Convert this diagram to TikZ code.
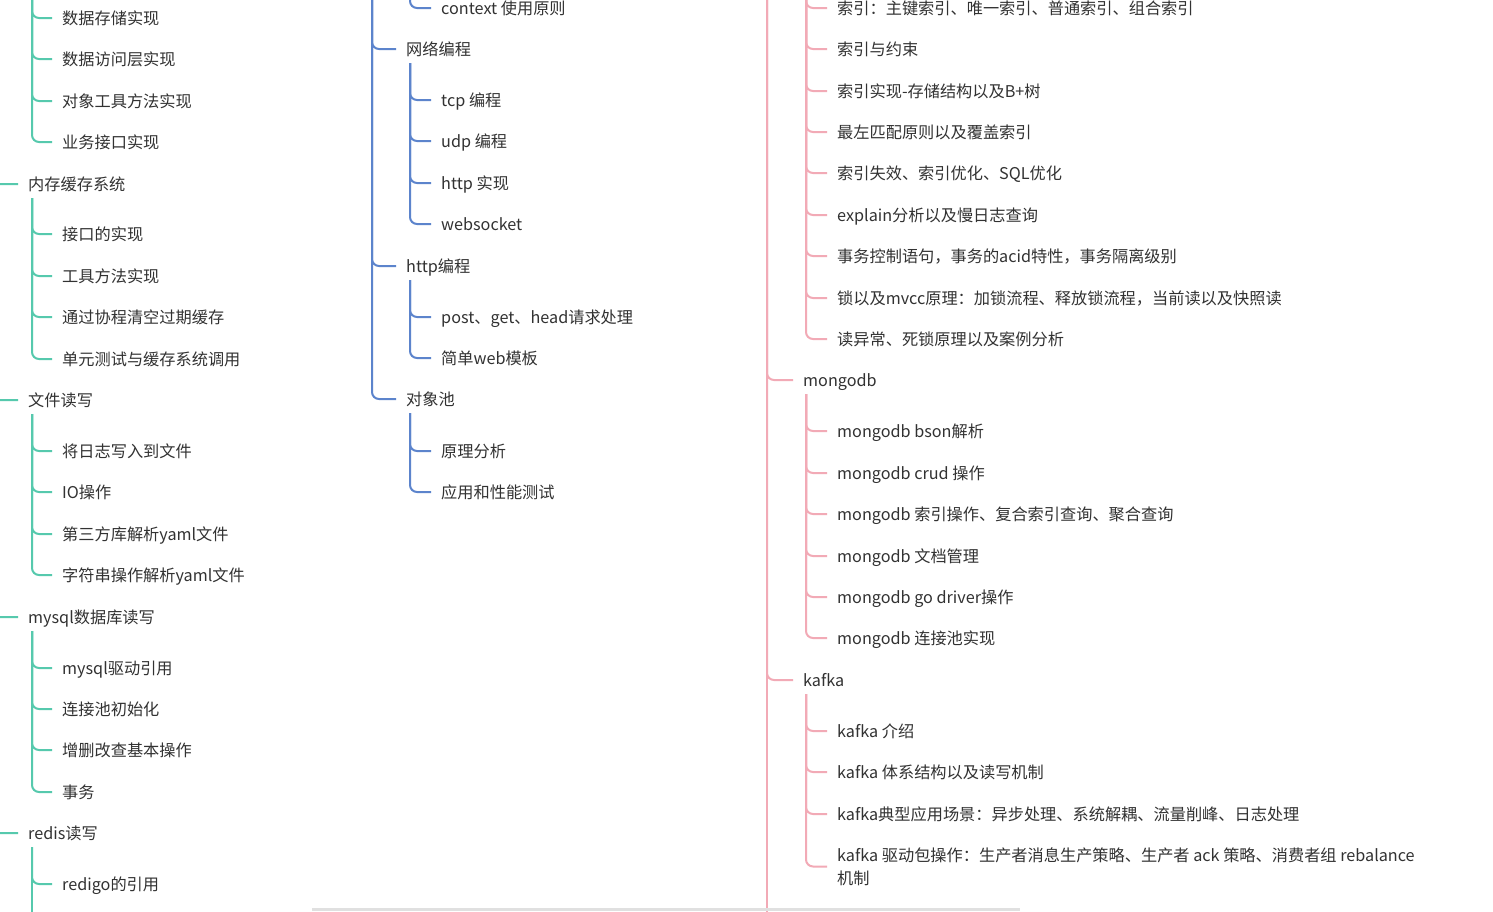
\documentclass[tikz,border=0pt]{standalone}
\usepackage{fontspec}
\setmainfont{Noto Sans CJK SC}
\definecolor{cteal}{RGB}{86,201,173}
\definecolor{cblue}{RGB}{92,132,204}
\definecolor{cpink}{RGB}{242,170,182}
\definecolor{ctext}{RGB}{50,50,50}
\begin{document}
\begin{tikzpicture}[x=1pt,y=-1pt,
  item/.style={anchor=west,inner xsep=10pt,inner ysep=6pt,text height=14pt,text depth=2pt,text=ctext,font=\fontsize{16.2}{20}\selectfont},
  itemml/.style={anchor=west,inner xsep=10pt,inner ysep=0pt,align=left,text=ctext,font=\fontsize{16.2}{23}\selectfont},
  tl/.style={draw=cteal,line width=2pt,rounded corners=7pt},
  bl/.style={draw=cblue,line width=2pt,rounded corners=7pt},
  pl/.style={draw=cpink,line width=2pt,rounded corners=7pt}]
\useasboundingbox (0,0) rectangle (1493,911);
\clip (0,0) rectangle (1493,911);
\fill[white] (0,0) rectangle (1493,911);

% ---------------- left column ----------------
\coordinate (Lroot) at (-12,-50);
\coordinate (Ltop) at (32,-40);
\node[item] (l1) at (52,18) {数据存储实现};
\node[item] (l2) at (52,59) {数据访问层实现};
\node[item] (l3) at (52,101) {对象工具方法实现};
\node[item] (l4) at (52,142) {业务接口实现};
\foreach \n in {l1,l2,l3,l4} \draw[tl] (Ltop) |- (\n.west);

\node[item] (mem) at (18,184) {内存缓存系统};
\node[item] (m1) at (52,234) {接口的实现};
\node[item] (m2) at (52,276) {工具方法实现};
\node[item] (m3) at (52,317) {通过协程清空过期缓存};
\node[item] (m4) at (52,359) {单元测试与缓存系统调用};
\foreach \n in {m1,m2,m3,m4} \draw[tl] ([xshift=14pt]mem.south west) |- (\n.west);

\node[item] (file) at (18,400) {文件读写};
\node[item] (f1) at (52,451) {将日志写入到文件};
\node[item] (f2) at (52,492) {IO操作};
\node[item] (f3) at (52,534) {第三方库解析yaml文件};
\node[item] (f4) at (52,575) {字符串操作解析yaml文件};
\foreach \n in {f1,f2,f3,f4} \draw[tl] ([xshift=14pt]file.south west) |- (\n.west);

\node[item] (mysql) at (18,617) {mysql数据库读写};
\node[item] (s1) at (52,668) {mysql驱动引用};
\node[item] (s2) at (52,709) {连接池初始化};
\node[item] (s3) at (52,750) {增删改查基本操作};
\node[item] (s4) at (52,792) {事务};
\foreach \n in {s1,s2,s3,s4} \draw[tl] ([xshift=14pt]mysql.south west) |- (\n.west);

\node[item] (redis) at (18,833) {redis读写};
\node[item] (r1) at (52,884) {redigo的引用};
\coordinate (Rdbot) at (32,960);
\draw[tl] ([xshift=14pt]redis.south west) |- (r1.west);
\draw[tl] ([xshift=14pt]redis.south west) -- (Rdbot);

\foreach \n in {mem,file,mysql,redis} \draw[tl] (Lroot) |- (\n.west);
\coordinate (Lbot) at (-12,960);
\draw[tl] (Lroot) -- (Lbot);

% ---------------- middle column ----------------
\coordinate (Mroot) at (372,-40);
\coordinate (Mtop) at (410,-40);
\node[item] (ctx) at (431,8) {context 使用原则};
\draw[bl] (Mtop) |- (ctx.west);

\node[item] (net) at (396,49) {网络编程};
\node[item] (n1) at (431,100) {tcp 编程};
\node[item] (n2) at (431,141) {udp 编程};
\node[item] (n3) at (431,183) {http 实现};
\node[item] (n4) at (431,224) {websocket};
\foreach \n in {n1,n2,n3,n4} \draw[bl] ([xshift=14pt]net.south west) |- (\n.west);

\node[item] (http) at (396,266) {http编程};
\node[item] (h1) at (431,317) {post、get、head请求处理};
\node[item] (h2) at (431,358) {简单web模板};
\foreach \n in {h1,h2} \draw[bl] ([xshift=14pt]http.south west) |- (\n.west);

\node[item] (pool) at (396,399) {对象池};
\node[item] (p1) at (431,451) {原理分析};
\node[item] (p2) at (431,492) {应用和性能测试};
\foreach \n in {p1,p2} \draw[bl] ([xshift=14pt]pool.south west) |- (\n.west);

\foreach \n in {net,http,pool} \draw[bl] (Mroot) |- (\n.west);

% ---------------- right column ----------------
\coordinate (Rroot) at (767,-40);
\coordinate (Rbot) at (767,960);
\coordinate (Rtop) at (806,-40);
\draw[pl] (Rroot) -- (Rbot);

\node[item] (i1) at (827,8) {索引：主键索引、唯一索引、普通索引、组合索引};
\node[item] (i2) at (827,49) {索引与约束};
\node[item] (i3) at (827,91) {索引实现-存储结构以及B+树};
\node[item] (i4) at (827,132) {最左匹配原则以及覆盖索引};
\node[item] (i5) at (827,173) {索引失效、索引优化、SQL优化};
\node[item] (i6) at (827,215) {explain分析以及慢日志查询};
\node[item] (i7) at (827,256) {事务控制语句，事务的acid特性，事务隔离级别};
\node[item] (i8) at (827,298) {锁以及mvcc原理：加锁流程、释放锁流程，当前读以及快照读};
\node[item] (i9) at (827,339) {读异常、死锁原理以及案例分析};
\foreach \n in {i1,i2,i3,i4,i5,i6,i7,i8,i9} \draw[pl] (Rtop) |- (\n.west);

\node[item] (mongo) at (793,380) {mongodb};
\node[item] (g1) at (827,431) {mongodb bson解析};
\node[item] (g2) at (827,473) {mongodb crud 操作};
\node[item] (g3) at (827,514) {mongodb 索引操作、复合索引查询、聚合查询};
\node[item] (g4) at (827,556) {mongodb 文档管理};
\node[item] (g5) at (827,597) {mongodb go driver操作};
\node[item] (g6) at (827,638) {mongodb 连接池实现};
\foreach \n in {g1,g2,g3,g4,g5,g6} \draw[pl] ([xshift=13pt]mongo.south west) |- (\n.west);

\node[item] (kafka) at (793,680) {kafka};
\node[item] (k1) at (827,731) {kafka 介绍};
\node[item] (k2) at (827,772) {kafka 体系结构以及读写机制};
\node[item] (k3) at (827,814) {kafka典型应用场景：异步处理、系统解耦、流量削峰、日志处理};
\node[itemml] (k4) at (827,866.5) {kafka 驱动包操作：生产者消息生产策略、生产者 ack 策略、消费者组 rebalance\\机制};
\foreach \n in {k1,k2,k3,k4} \draw[pl] ([xshift=13pt]kafka.south west) |- (\n.west);

\foreach \n in {mongo,kafka} \draw[pl] (Rroot) |- (\n.west);

% bottom scrollbar
\fill[black!12] (312,908) rectangle (1020,911);
\end{tikzpicture}
\end{document}
